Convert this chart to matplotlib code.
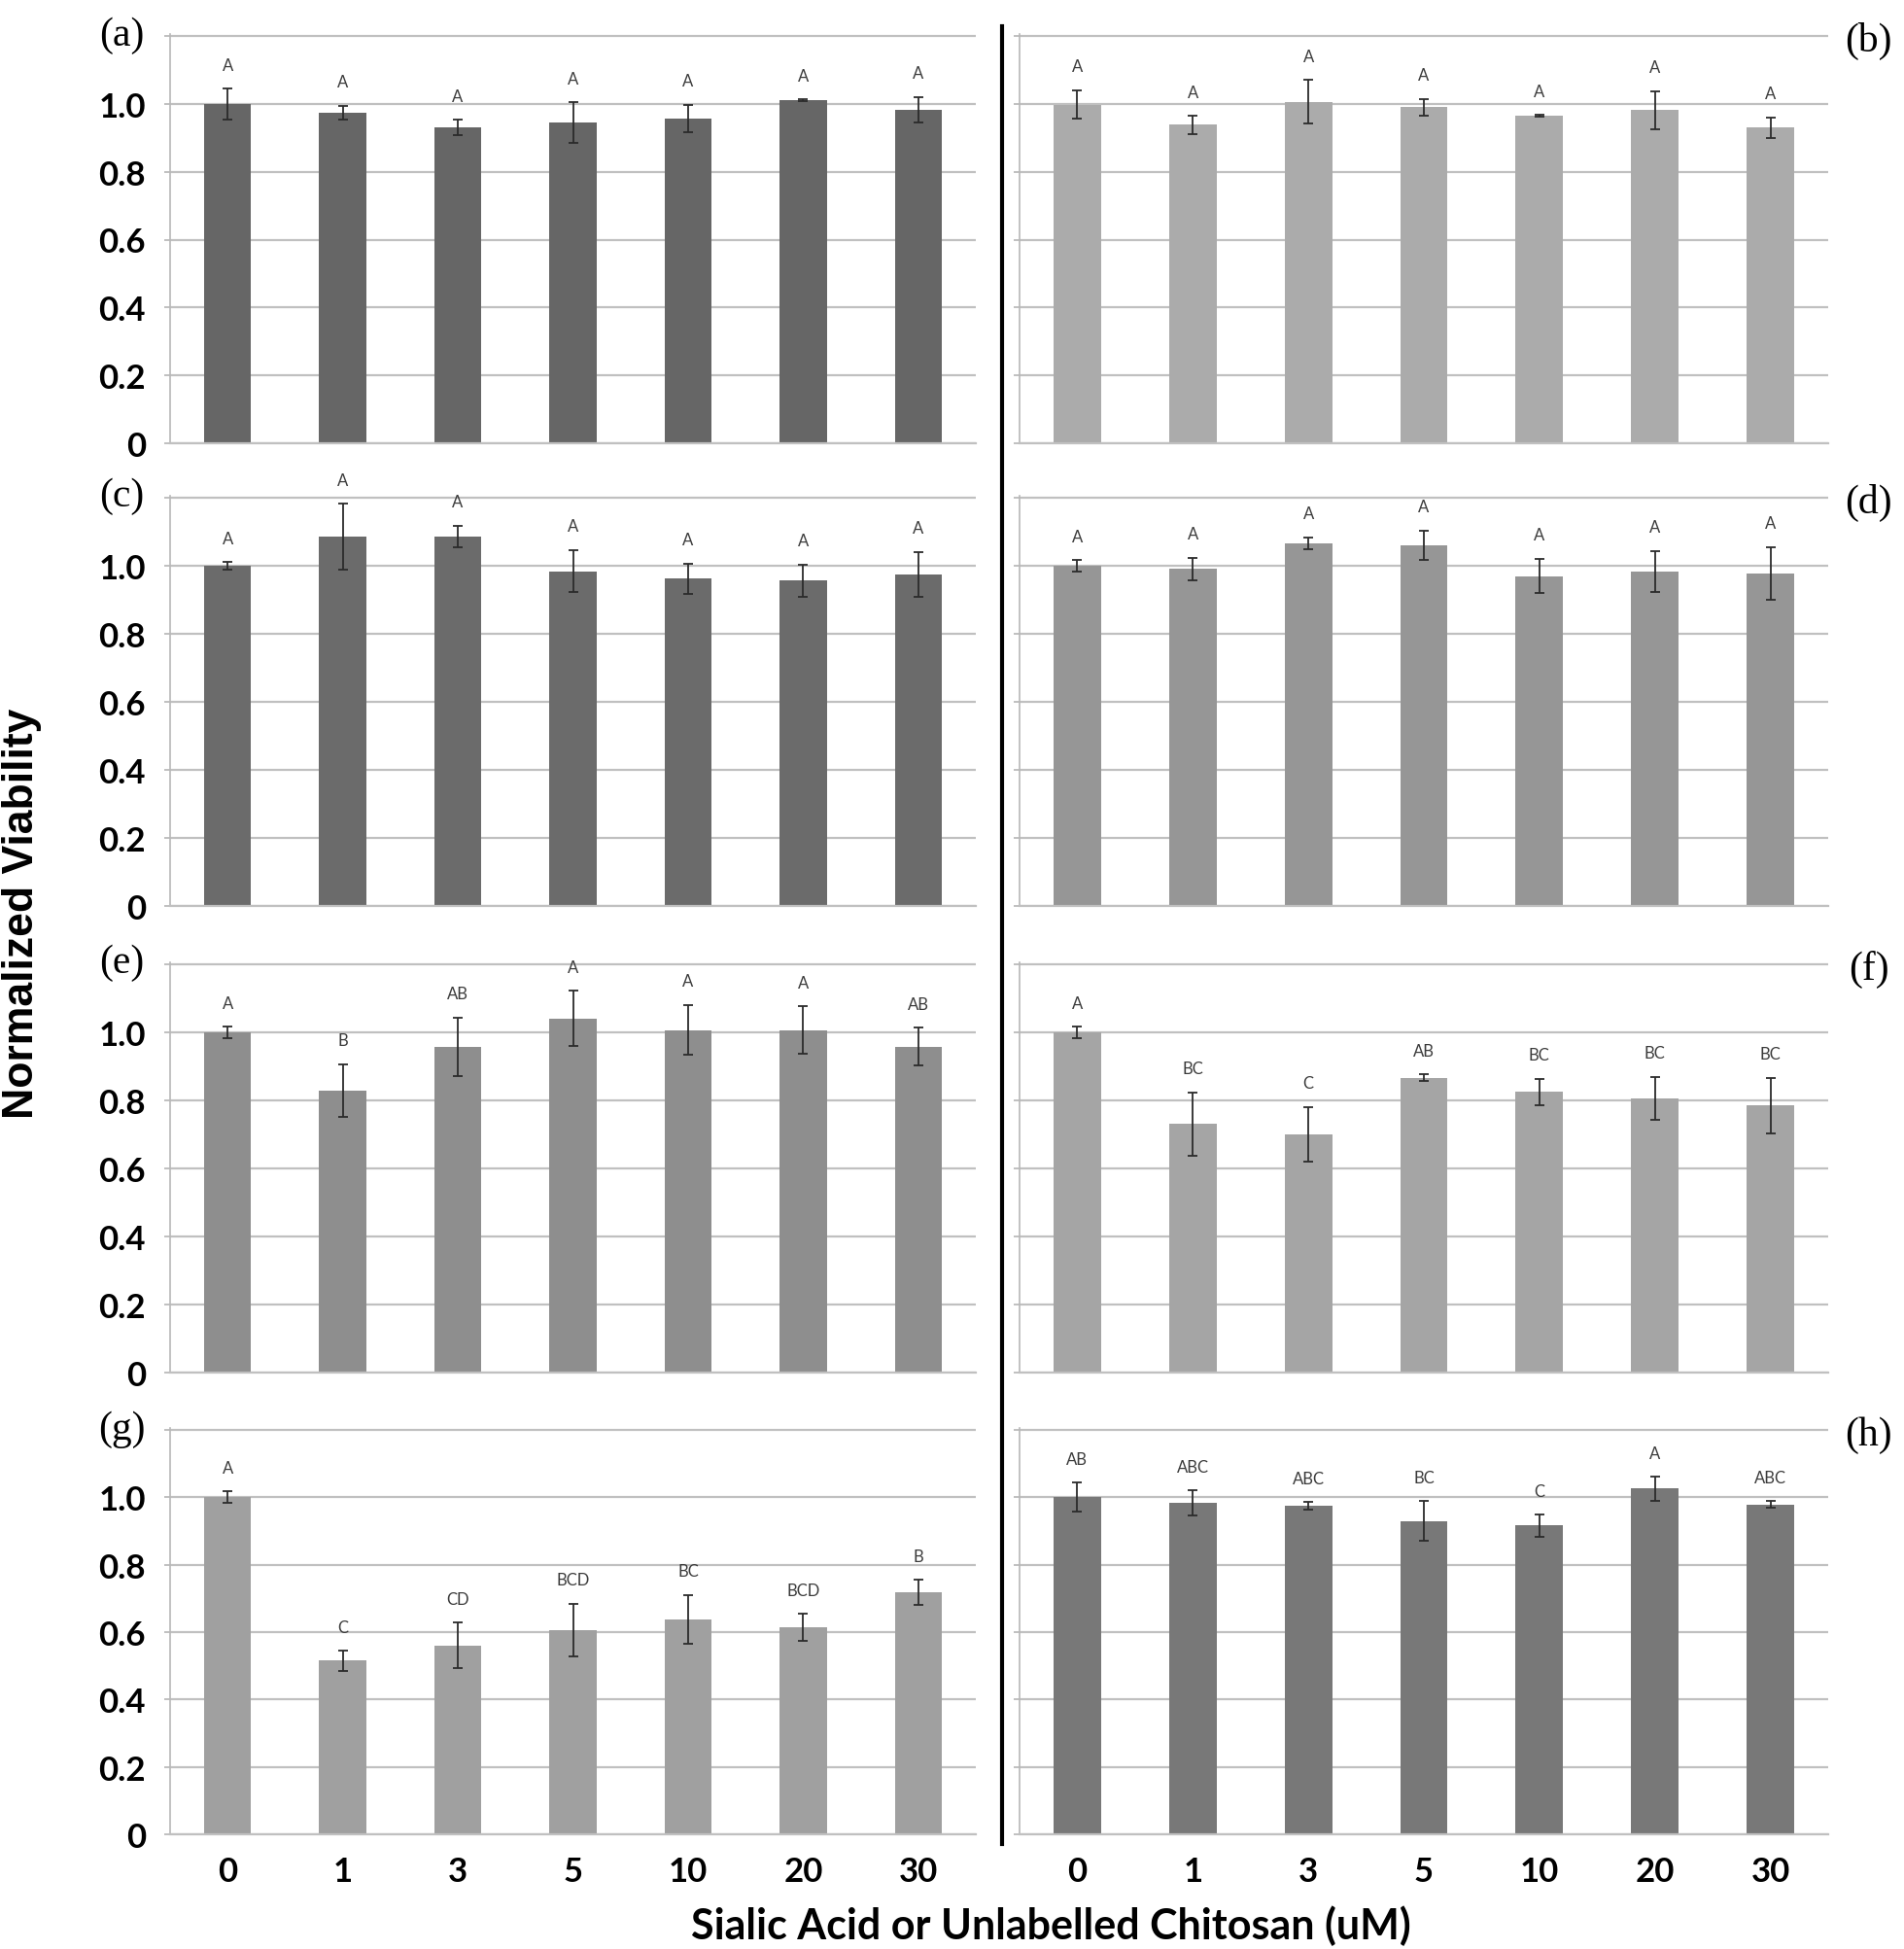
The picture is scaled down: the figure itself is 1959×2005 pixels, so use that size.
import matplotlib
matplotlib.use("Agg")
import matplotlib.pyplot as plt
from matplotlib.lines import Line2D

# concentrations (uM)
conc = ["0", "1", "3", "5", "10", "20", "30"]

# (a)
a_mean = [1.00, 0.974, 0.930, 0.944, 0.957, 1.010, 0.983]
a_err = [0.045, 0.020, 0.023, 0.060, 0.040, 0.003, 0.037]
a_let = ["A", "A", "A", "A", "A", "A", "A"]
# (b)
b_mean = [0.998, 0.938, 1.006, 0.990, 0.965, 0.982, 0.930]
b_err = [0.042, 0.026, 0.064, 0.025, 0.002, 0.056, 0.030]
b_let = ["A", "A", "A", "A", "A", "A", "A"]
# (c)
c_mean = [1.00, 1.086, 1.086, 0.984, 0.962, 0.957, 0.975]
c_err = [0.011, 0.096, 0.032, 0.062, 0.044, 0.047, 0.066]
c_let = ["A", "A", "A", "A", "A", "A", "A"]
# (d)
d_mean = [1.00, 0.991, 1.066, 1.061, 0.970, 0.983, 0.978]
d_err = [0.016, 0.033, 0.017, 0.043, 0.050, 0.061, 0.077]
d_let = ["A", "A", "A", "A", "A", "A", "A"]
# (e)
e_mean = [1.00, 0.829, 0.958, 1.041, 1.007, 1.007, 0.958]
e_err = [0.016, 0.078, 0.086, 0.081, 0.074, 0.069, 0.055]
e_let = ["A", "B", "AB", "A", "A", "A", "AB"]
# (f)
f_mean = [1.00, 0.731, 0.700, 0.867, 0.825, 0.806, 0.785]
f_err = [0.016, 0.093, 0.080, 0.010, 0.039, 0.063, 0.082]
f_let = ["A", "BC", "C", "AB", "BC", "BC", "BC"]
# (g)
g_mean = [1.00, 0.515, 0.560, 0.607, 0.638, 0.615, 0.719]
g_err = [0.017, 0.030, 0.068, 0.078, 0.073, 0.040, 0.037]
g_let = ["A", "C", "CD", "BCD", "BC", "BCD", "B"]
# (h)
h_mean = [1.00, 0.983, 0.975, 0.929, 0.916, 1.026, 0.979]
h_err = [0.043, 0.037, 0.012, 0.059, 0.032, 0.036, 0.011]
h_let = ["AB", "ABC", "ABC", "BC", "C", "A", "ABC"]

panels = [
    ("(a)", a_mean, a_err, a_let, "#666666"),
    ("(b)", b_mean, b_err, b_let, "#ababab"),
    ("(c)", c_mean, c_err, c_let, "#6b6b6b"),
    ("(d)", d_mean, d_err, d_let, "#969696"),
    ("(e)", e_mean, e_err, e_let, "#8e8e8e"),
    ("(f)", f_mean, f_err, f_let, "#a5a5a5"),
    ("(g)", g_mean, g_err, g_let, "#a0a0a0"),
    ("(h)", h_mean, h_err, h_let, "#787878"),
]

W, H = 1959, 2006
fig = plt.figure(figsize=(W / 100, H / 100), dpi=100)

grid_c = "#c0c0c0"
col_left = [(175, 829), (1049, 832)]
row_px = [(38, 457), (513, 933), (993, 1413), (1472, 1888)]
ytop = 1.205

for i, (tag, mean, err, let, color) in enumerate(panels):
    r, c = divmod(i, 2)
    x0, w = col_left[c]
    top, bot = row_px[r]
    hpx = (bot - top) * ytop / 1.2
    ax = fig.add_axes([x0 / W, 1 - bot / H, w / W, hpx / H])
    xs = list(range(len(conc)))
    ax.bar(xs, mean, width=0.41, color=color, zorder=2)
    ax.errorbar(xs, mean, yerr=err, fmt="none", ecolor="#2b2b2b",
                elinewidth=1.3, capsize=3.5, capthick=1.3, zorder=3)
    for x, m, e, l in zip(xs, mean, err, let):
        ax.text(x, m + e + 0.07, l, ha="center", va="center",
                fontsize=12, family="Lato", color="#3a3a3a", zorder=4)
    ax.set_xlim(-0.5, 6.5)
    ax.set_ylim(0, ytop)
    ax.set_yticks([0, 0.2, 0.4, 0.6, 0.8, 1.0, 1.2])
    if c == 0:
        ax.set_yticklabels(["0", "0.2", "0.4", "0.6", "0.8", "1.0", ""],
                           fontsize=25, fontweight="bold", family="Lato")
    else:
        ax.set_yticklabels([])
    ax.set_xticks(xs)
    if r == 3:
        ax.set_xticklabels(conc, fontsize=25, fontweight="bold", family="Lato")
    else:
        ax.set_xticklabels([])
    ax.yaxis.grid(True, color=grid_c, lw=1.6, zorder=0)
    ax.set_axisbelow(True)
    ax.tick_params(axis="y", direction="out", length=4, width=1.4,
                   color=grid_c, pad=14)
    ax.tick_params(axis="x", length=0, pad=16)
    for s in ["top", "right"]:
        ax.spines[s].set_visible(False)
    ax.spines["left"].set_color("#b8b8b8")
    ax.spines["left"].set_linewidth(1.2)
    ax.spines["bottom"].set_color(grid_c)
    ax.spines["bottom"].set_linewidth(1.6)
    if c == 0:
        ax.text(-0.06, 1.0, tag, transform=ax.transAxes, ha="center",
                va="center", fontsize=30, family="Liberation Serif")
    else:
        ax.text(1.05, 0.985, tag, transform=ax.transAxes, ha="center",
                va="center", fontsize=30, family="Liberation Serif")

# divider between the two columns
fig.add_artist(Line2D([1031 / W, 1031 / W], [1 - 28 / H, 1 - 1898 / H],
                      color="black", lw=3, transform=fig.transFigure))

fig.text(23 / W, 1 - 940 / H, "Normalized Viability", rotation=90,
         ha="center", va="center", fontsize=32, fontweight="bold",
         family="Liberation Sans")
fig.text(1081 / W, 1 - 1981 / H, "Sialic Acid or Unlabelled Chitosan (uM)",
         ha="center", va="center", fontsize=31, fontweight="bold", family="Lato")

fig.savefig("out.png", dpi=100, facecolor="white")
